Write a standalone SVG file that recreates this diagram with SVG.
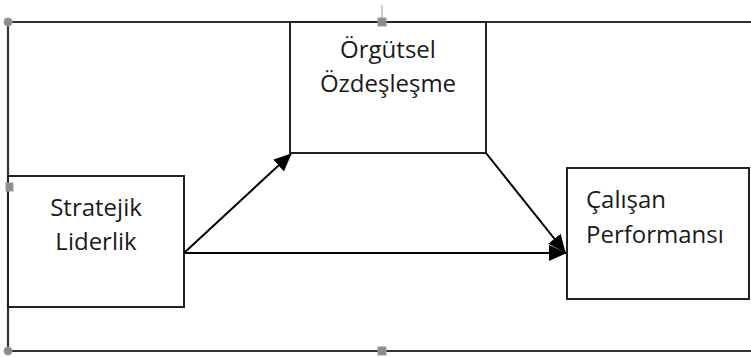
<svg xmlns="http://www.w3.org/2000/svg" width="751" height="357" viewBox="0 0 751 357">
  <style>
    .frame { stroke: #333; stroke-width: 2.2; fill: none; }
    .box { fill: #fff; stroke: #222; stroke-width: 2; }
    .lbl { font-family: "Open Sans", "Liberation Sans", sans-serif; font-size: 24px; fill: #1a1a1a; }
    .conn { stroke: #000; stroke-width: 2; fill: none; }
    .handle { fill: #8c8c8c; stroke: #9a9a9a; stroke-width: 1; }
  </style>
  <defs>
    <marker id="ah" markerUnits="userSpaceOnUse" markerWidth="20" markerHeight="16" refX="17" refY="8" orient="auto">
      <path d="M0,0 L18,8 L0,16 z" fill="#000"/>
    </marker>
  </defs>
  <rect width="751" height="357" fill="#fff"/>
  <g id="frame">
    <line class="frame" x1="8" y1="22" x2="751" y2="22"/>
    <line class="frame" x1="8" y1="22" x2="8" y2="351"/>
    <line class="frame" x1="8" y1="351" x2="751" y2="351"/>
  </g>
  <g id="node-orgutsel">
    <rect class="box" x="290" y="22" width="196" height="131"/>
    <text class="lbl" x="388" y="58" text-anchor="middle">Örgütsel</text>
    <text class="lbl" x="388" y="92" text-anchor="middle">Özdeşleşme</text>
  </g>
  <g id="node-stratejik">
    <rect class="box" x="8" y="176" width="176" height="131"/>
    <text class="lbl" x="96" y="216" text-anchor="middle">Stratejik</text>
    <text class="lbl" x="96" y="250" text-anchor="middle">Liderlik</text>
  </g>
  <g id="node-calisan">
    <rect class="box" x="567" y="168" width="182" height="131"/>
    <text class="lbl" x="586" y="208">Çalışan</text>
    <text class="lbl" x="586" y="243">Performansı</text>
  </g>
  <g id="connectors">
    <line class="conn" x1="184" y1="253" x2="291" y2="154" marker-end="url(#ah)"/>
    <line class="conn" x1="184" y1="253" x2="566" y2="253" marker-end="url(#ah)"/>
    <line class="conn" x1="486" y1="153" x2="565" y2="252" marker-end="url(#ah)"/>
  </g>
  <g id="handles">
    <line x1="382" y1="5" x2="382" y2="18" stroke="#999" stroke-width="1"/>
    <circle class="handle" cx="8" cy="22" r="4"/>
    <circle class="handle" cx="8" cy="351" r="4"/>
    <rect class="handle" x="378" y="18" width="8" height="8"/>
    <rect class="handle" x="378" y="347" width="8" height="8"/>
    <rect class="handle" x="6" y="183" width="7" height="8"/>
  </g>
</svg>
